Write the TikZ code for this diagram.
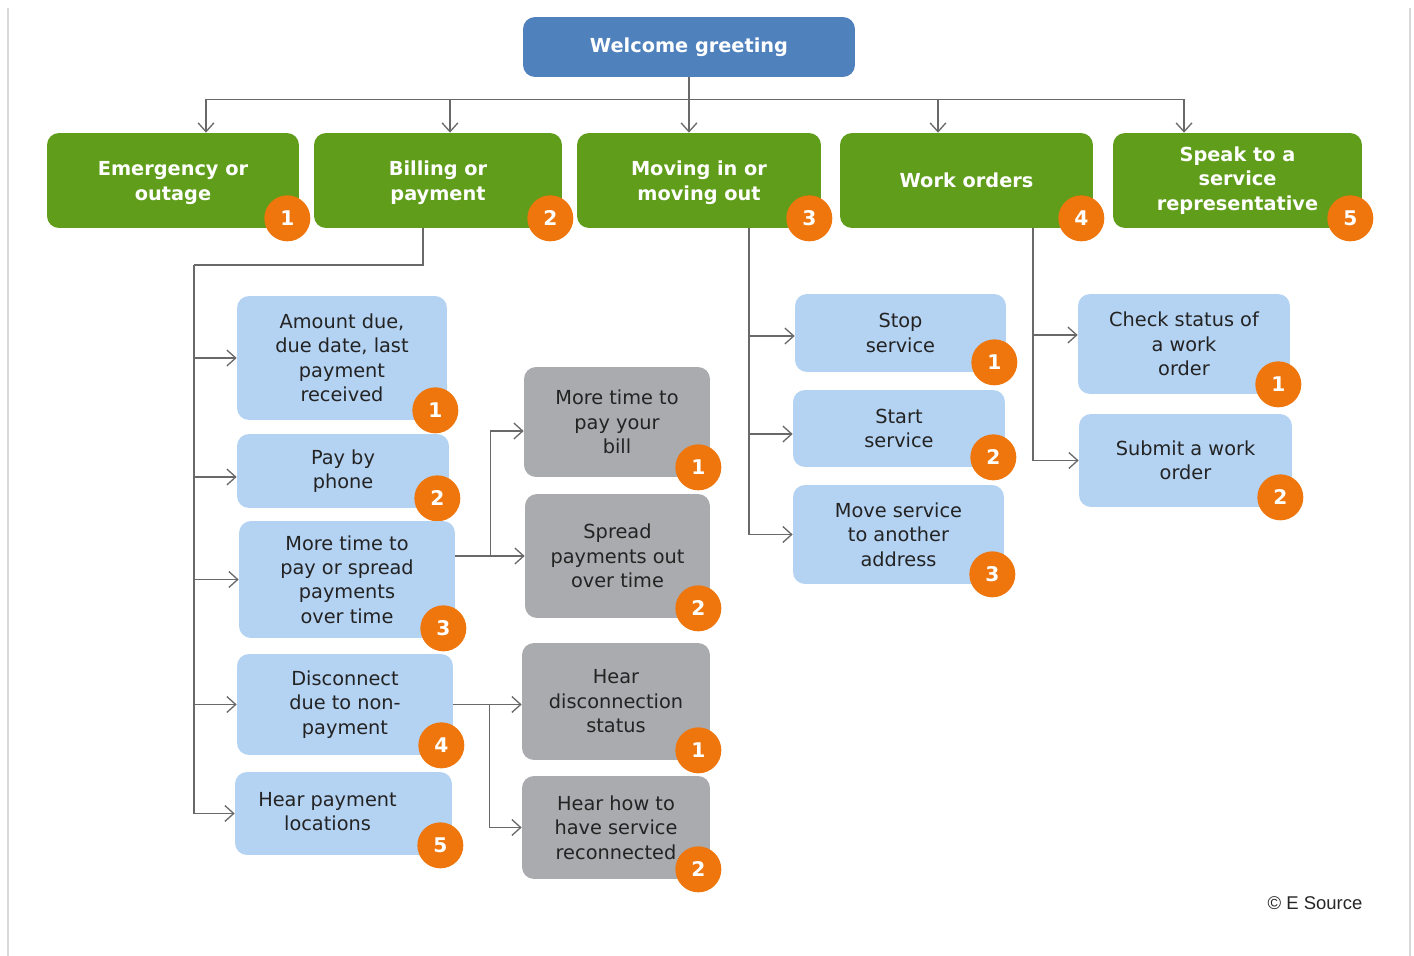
\documentclass[tikz,border=0pt]{standalone}
\usepackage{fontspec}
\setmainfont{DejaVu Sans}
\newfontfamily\arialfont{Liberation Sans}
\usepackage{xcolor}
\usepackage{tikz}
\usetikzlibrary{calc, arrows.meta, positioning}
\tikzset{
    basenode/.style = {draw=none, rectangle, rounded corners=0.24cm, inner sep=0.1em, align=center,
      font=\fontsize{11}{13.9}\selectfont},
    topnode/.style = {basenode, fill=welcomeblue, text=white, font=\fontsize{11}{13.9}\selectfont\bfseries,
      minimum width=6.64cm, minimum height=1.2cm},
    greennode/.style = {basenode, fill=menugreen, text=white, font=\fontsize{11}{13.9}\selectfont\bfseries,
      minimum height=1.9cm},
    bluenode/.style = {basenode, fill=optionblue, text=textdark},
    greynode/.style = {basenode, fill=optiongrey, text=textdark},
    badgenode/.style = {circle, fill=badgeorange, text=white, font=\fontsize{11.5}{13}\selectfont\bfseries,
      minimum size=0.92cm, inner sep=0em},
    trunk/.style = {draw=linegrey, line width=0.75pt},
    connect/.style = {trunk, -{Straight Barb[length=5pt, width=9pt]}},
    framerule/.style = {draw=black!15, line width=0.6pt}
}
\definecolor{welcomeblue}{RGB}{79,129,189}
\definecolor{menugreen}{RGB}{95,157,26}
\definecolor{optionblue}{RGB}{180,210,242}
\definecolor{optiongrey}{RGB}{170,171,174}
\definecolor{badgeorange}{RGB}{238,118,13}
\definecolor{linegrey}{RGB}{105,105,105}
\definecolor{textdark}{RGB}{35,35,35}
\newcommand{\numbadge}[2]{\node [badgenode, name = #1badge] at ([xshift=-0.24cm, yshift=0.2cm]#1.south east) {#2};}

\begin{document}
\begin{tikzpicture}[x=0.02cm, y=-0.02cm]
\useasboundingbox (0,0) rectangle (1414,956);
\draw [framerule] (8,8) -- (8,956);
\draw [framerule] (1410,8) -- (1410,956);

\node [topnode, name = welcome] at (689,47) {\raisebox{-0.05cm}{Welcome greeting}};

% main menu
\node [greennode, name = emergency, minimum width=5.04cm] at (173,180.5) {\\[-0.1cm]Emergency or\\outage};
\numbadge{emergency}{1}
\node [greennode, name = billing, minimum width=4.96cm] at (438,180.5) {\\[-0.1cm]Billing or\\payment};
\numbadge{billing}{2}
\node [greennode, name = moving, minimum width=4.88cm] at (699,180.5) {\\[-0.1cm]Moving in or\\moving out};
\numbadge{moving}{3}
\node [greennode, name = workorders, minimum width=5.06cm] at (966.5,180.5) {\raisebox{-0.03cm}{Work orders}};
\numbadge{workorders}{4}
\node [greennode, name = speak, minimum width=4.98cm] at (1237.5,180.5) {Speak to a\\service\\representative};
\numbadge{speak}{5}

\coordinate (bus) at ($(welcome.south)+(0,22)$);
\draw [trunk] ([xshift=0.66cm]emergency.north |- bus) -- ([xshift=-1.07cm]speak.north |- bus);
\draw [connect] (welcome.south) -- (welcome.south |- moving.north);
\draw [connect] ([xshift=0.66cm]emergency.north |- bus) -- ([xshift=0.66cm]emergency.north);
\draw [connect] ([xshift=0.24cm]billing.north |- bus) -- ([xshift=0.24cm]billing.north);
\draw [connect] ([xshift=-0.57cm]workorders.north |- bus) -- ([xshift=-0.57cm]workorders.north);
\draw [connect] ([xshift=-1.07cm]speak.north |- bus) -- ([xshift=-1.07cm]speak.north);

% billing or payment
\node [bluenode, name = amount, minimum width=4.2cm, minimum height=2.48cm] at (342,358)
    {Amount due,\\due date, last\\payment\\received};
\numbadge{amount}{1}
\node [bluenode, name = phone, minimum width=4.24cm, minimum height=1.48cm] at (343,471) {Pay by\\phone};
\numbadge{phone}{2}
\node [bluenode, name = moretime, minimum width=4.32cm, minimum height=2.34cm] at (347,579.5)
    {More time to\\pay or spread\\payments\\over time};
\numbadge{moretime}{3}
\node [bluenode, name = disconnect, minimum width=4.32cm, minimum height=2.02cm] at (345,704.5)
    {Disconnect\\due to non-\\payment};
\numbadge{disconnect}{4}
\node [bluenode, name = locations, minimum width=4.34cm, minimum height=1.66cm] at (343.5,813.5)
    {\begin{tabular}{@{}c@{}}Hear payment\\locations\end{tabular}\hspace*{0.64cm}};
\numbadge{locations}{5}

\coordinate (billtrunk) at (194,265);
\draw [trunk] ([xshift=-0.3cm]billing.south) |- (billtrunk);
\draw [connect] (billtrunk) |- (amount.west);
\draw [connect] (billtrunk) |- ([yshift=-0.12cm]phone.west);
\draw [connect] (billtrunk) |- (moretime.west);
\draw [connect] (billtrunk) |- (disconnect.west);
\draw [connect] (billtrunk) |- (locations.west);

\node [greynode, name = paybill, minimum width=3.72cm, minimum height=2.2cm] at (617,422)
    {More time to\\pay your\\bill};
\numbadge{paybill}{1}
\node [greynode, name = spread, minimum width=3.7cm, minimum height=2.48cm] at (617.5,556)
    {Spread\\payments out\\over time};
\numbadge{spread}{2}
\node [greynode, name = discstatus, minimum width=3.76cm, minimum height=2.34cm] at (616,701.5)
    {Hear\\disconnection\\status};
\numbadge{discstatus}{1}
\node [greynode, name = reconnect, minimum width=3.76cm, minimum height=2.06cm] at (616,827.5)
    {Hear how to\\have service\\reconnected};
\numbadge{reconnect}{2}

\coordinate (split1) at ($(moretime.east |- spread.west)+(35,0)$);
\draw [connect] (moretime.east |- spread.west) -- (spread.west);
\draw [connect] (split1) |- ([yshift=-0.18cm]paybill.west);
\coordinate (split2) at ($(disconnect.east)+(36,0)$);
\draw [connect] (disconnect.east) -- (disconnect.east -| discstatus.west);
\draw [connect] (split2) |- (reconnect.west);

% moving in or moving out
\node [bluenode, name = stop, minimum width=4.22cm, minimum height=1.56cm] at (900.5,333) {Stop\\service};
\numbadge{stop}{1}
\node [bluenode, name = start, minimum width=4.24cm, minimum height=1.54cm] at (899,428.5) {Start\\service};
\numbadge{start}{2}
\node [bluenode, name = move, minimum width=4.22cm, minimum height=1.98cm] at (898.5,534.5)
    {Move service\\to another\\address};
\numbadge{move}{3}

\coordinate (movetrunk) at ([xshift=1cm]moving.south);
\draw [connect] (movetrunk) |- ([yshift=-0.06cm]stop.west);
\draw [connect] (movetrunk) |- ([yshift=-0.11cm]start.west);
\draw [connect] (movetrunk) |- (move.west);

% work orders
\node [bluenode, name = check, minimum width=4.24cm, minimum height=2cm] at (1184,344)
    {Check status of\\a work\\order};
\numbadge{check}{1}
\node [bluenode, name = submit, minimum width=4.26cm, minimum height=1.86cm] at (1185.5,460.5)
    {Submit a work\\order};
\numbadge{submit}{2}

\coordinate (worktrunk) at ([xshift=1.33cm]workorders.south);
\draw [connect] (worktrunk) |- ([yshift=0.18cm]check.west);
\draw [connect] (worktrunk) |- (submit.west);

\node [name = credit, font=\arialfont\fontsize{10.5}{12}\selectfont, text=black!85] at (1315,903) {© E Source};
\end{tikzpicture}
\end{document}
